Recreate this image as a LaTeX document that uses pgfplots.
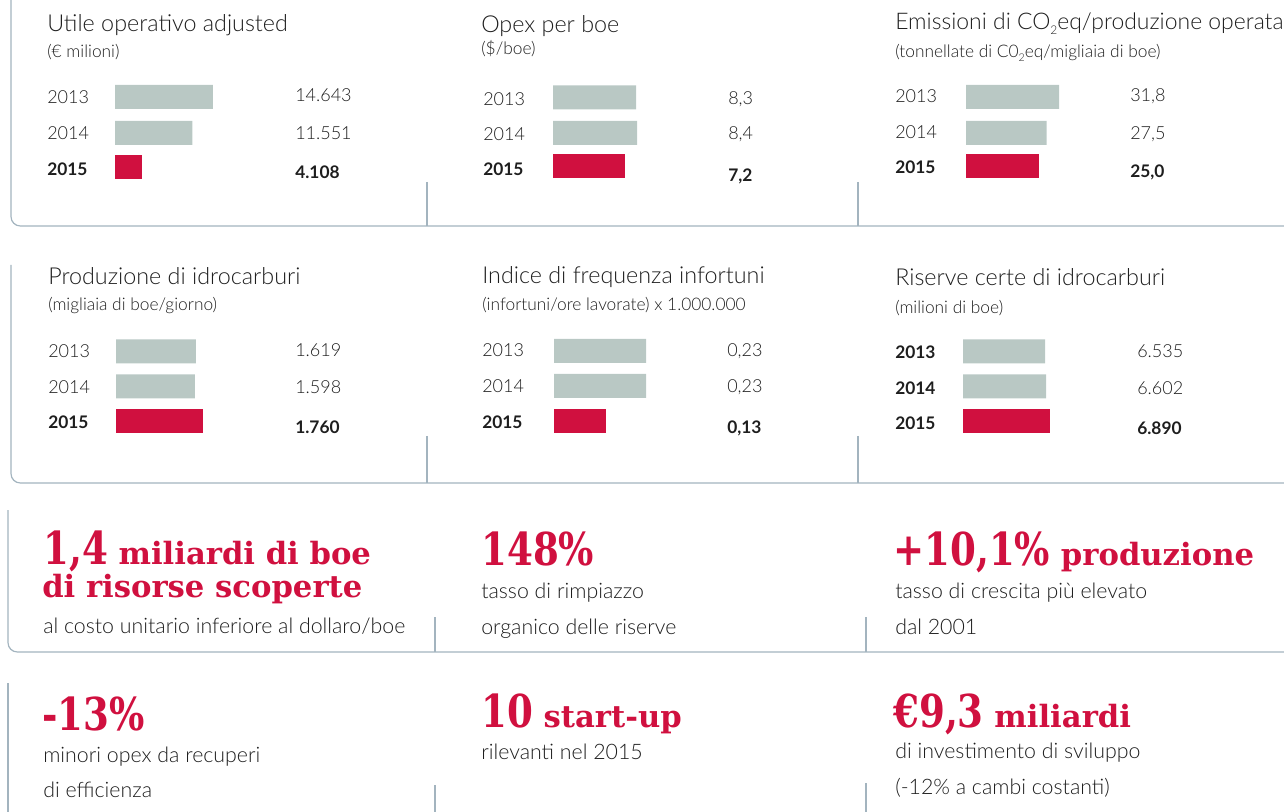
\documentclass[border=0pt]{standalone}
\usepackage{pgfplots}
\pgfplotsset{compat=1.18}
\usepackage{fontspec}
\setmainfont{Lato}[UprightFont=* Light, BoldFont=* Bold]
\newfontfamily\slabN{DejaVu Serif}[FakeStretch=0.82]
\newfontfamily\slab{DejaVu Serif}

\definecolor{enired}{HTML}{D0103F}
\definecolor{barg}{HTML}{B9C8C4}
\definecolor{frame}{HTML}{A3B4BF}
\definecolor{ink}{HTML}{1E1E1E}

% one small horizontal bar panel: 150px wide, 105px tall box (1px = 0.75pt)
\pgfplotsset{kpi/.style={
    hide axis, scale only axis, clip=false,
    anchor=north west,
    width=112.5pt, height=78.75pt,
    xmin=0, ymin=-105, ymax=0,
    xbar, bar width=18pt, bar shift=0pt,
}}

\newcommand{\ttl}[3]{\node[anchor=base west, inner sep=0, font=\fontsize{17.5}{20}\selectfont, text=ink] at (#1,#2) {#3};}
\newcommand{\sub}[3]{\node[anchor=base west, inner sep=0, font=\fontsize{13}{15}\selectfont, text=ink] at (#1,#2) {#3};}
\newcommand{\yr}[3]{\node[anchor=base west, inner sep=0, font=\fontsize{13.5}{15}\selectfont, text=ink] at (#1,#2) {#3};}
\newcommand{\yrb}[3]{\node[anchor=base west, inner sep=0, font=\fontsize{13}{15}\selectfont\bfseries, text=ink] at (#1,#2) {#3};}
\newcommand{\body}[3]{\node[anchor=base west, inner sep=0, font=\fontsize{16}{18}\selectfont, text=ink] at (#1,#2) {#3};}
\newcommand{\hlbig}[1]{{\slabN\bfseries\fontsize{34}{34}\selectfont #1}}
\newcommand{\hlmid}[1]{{\slab\bfseries\fontsize{23}{24}\selectfont #1}}
\newcommand{\hlgap}{\hspace{8pt}}

\begin{document}
\begin{tikzpicture}
\begin{scope}[x=0.75pt, y=-0.75pt]
\path[use as bounding box] (0,0) rectangle (1284,812);

% frames
\begin{scope}[draw=frame, line width=0.9pt]
\draw[rounded corners=7pt] (11,-2) -- (11,226) -- (1290,226);
\draw (427,182) -- (427,226) (858,182) -- (858,226);
\draw[rounded corners=7pt] (11,265) -- (11,483) -- (1290,483);
\draw (427,436) -- (427,483) (858,436) -- (858,483);
\draw[rounded corners=7pt] (8,510) -- (8,652) -- (1290,652);
\draw (435,617) -- (435,652) (866,617) -- (866,652);
\draw (8,683) -- (8,815);
\draw (435,785) -- (435,815) (866,783) -- (866,815);
\end{scope}

% ---- panel texts
\ttl{47}{32}{Utile operativo adjusted}
\sub{47}{58}{(€ milioni)}
\yr{47}{104}{2013} \yr{47}{140}{2014} \yrb{47}{176}{2015}
\yr{295}{102}{14.643} \yr{295}{140}{11.551} \yrb{295}{179}{4.108}

\ttl{481}{33}{Opex per boe}
\sub{481}{55}{(\$/boe)}
\yr{483}{106}{2013} \yr{483}{141}{2014} \yrb{483}{176}{2015}
\yr{728}{105}{8,3} \yr{728}{140}{8,4} \yrb{728}{182}{7,2}

\node[anchor=base west, inner sep=0, font=\fontsize{17.2}{20}\selectfont, text=ink] at (895,30)
  {Emissioni di CO\raisebox{-0.4ex}{\fontsize{9}{9}\selectfont 2}eq/produzione operata};
\sub{895}{58}{(tonnellate di C0\raisebox{-0.4ex}{\fontsize{8}{8}\selectfont 2}eq/migliaia di boe)}
\yr{895}{103}{2013} \yr{895}{139}{2014} \yrb{895}{174}{2015}
\yr{1130}{102}{31,8} \yr{1130}{140}{27,5} \yrb{1130}{178}{25,0}

\ttl{48}{285}{Produzione di idrocarburi}
\sub{48}{311}{(migliaia di boe/giorno)}
\yr{48}{358}{2013} \yr{48}{394}{2014} \yrb{48}{429}{2015}
\yr{295}{357}{1.619} \yr{295}{394}{1.598} \yrb{295}{434}{1.760}

\ttl{482}{284}{Indice di frequenza infortuni}
\sub{482}{311}{(infortuni/ore lavorate) x 1.000.000}
\yr{482}{357}{2013} \yr{482}{393}{2014} \yrb{482}{428}{2015}
\yr{727}{357}{0,23} \yr{727}{393}{0,23} \yrb{727}{433}{0,13}

\ttl{895}{286}{Riserve certe di idrocarburi}
\sub{895}{314}{(milioni di boe)}
\yrb{895}{359}{2013} \yrb{895}{395}{2014} \yrb{895}{430}{2015}
\yr{1137}{358}{6.535} \yr{1137}{395}{6.602} \yrb{1137}{435}{6.890}

% ---- highlights
\begin{scope}[every node/.style={anchor=base west, inner sep=0, text=enired}]
\node at (43,564) {\hlbig{1,4}\hlgap\hlmid{miliardi di boe}};
\node at (42,597) {\hlmid{di risorse scoperte}};
\node at (481,565) {\hlbig{148\%}};
\node at (893,565) {\hlbig{+10,1\%}\hlgap\hlmid{produzione}};
\node at (42,730) {\hlbig{-13\%}};
\node at (481,727) {\hlbig{10}\hlgap\hlmid{start-up}};
\node at (893,727) {\hlbig{€9,3}\hlgap\hlmid{miliardi}};
\end{scope}
\body{43}{633}{al costo unitario inferiore al dollaro/boe}
\body{481}{598}{tasso di rimpiazzo}
\body{481}{634}{organico delle riserve}
\body{895}{598}{tasso di crescita più elevato}
\body{895}{634}{dal 2001}
\body{43}{762}{minori opex da recuperi}
\body{43}{797}{di efficienza}
\body{481}{759}{rilevanti nel 2015}
\body{895}{758}{di investimento di sviluppo}
\body{895}{794}{(-12\% a cambi costanti)}
\end{scope}

% ---- bar panels (positions in pt: px*0.75, y down)
\begin{axis}[kpi, at={(86.25pt,-60pt)}, xmax=22420]
\addplot[draw=none, fill=barg] coordinates {(14643,-17) (11551,-53)};
\addplot[draw=none, fill=enired] coordinates {(4108,-87)};
\end{axis}
\begin{axis}[kpi, at={(414.75pt,-60pt)}, xmax=15]
\addplot[draw=none, fill=barg] coordinates {(8.3,-17.5) (8.4,-53)};
\addplot[draw=none, fill=enired] coordinates {(7.2,-86)};
\end{axis}
\begin{axis}[kpi, at={(724.5pt,-60pt)}, xmax=51.2]
\addplot[draw=none, fill=barg] coordinates {(31.8,-17) (27.5,-53)};
\addplot[draw=none, fill=enired] coordinates {(25.0,-86)};
\end{axis}
\begin{axis}[kpi, at={(87pt,-251.25pt)}, xmax=3036]
\addplot[draw=none, fill=barg] coordinates {(1619,-16.5) (1598,-51.5)};
\addplot[draw=none, fill=enired] coordinates {(1760,-86)};
\end{axis}
\begin{axis}[kpi, at={(415.5pt,-251.25pt)}, xmax=0.375]
\addplot[draw=none, fill=barg] coordinates {(0.23,-16) (0.23,-51)};
\addplot[draw=none, fill=enired] coordinates {(0.13,-86)};
\end{axis}
\begin{axis}[kpi, at={(722.25pt,-251.25pt)}, xmax=11933]
\addplot[draw=none, fill=barg] coordinates {(6535,-16.5) (6602,-51.5)};
\addplot[draw=none, fill=enired] coordinates {(6890,-86)};
\end{axis}
\end{tikzpicture}
\end{document}
